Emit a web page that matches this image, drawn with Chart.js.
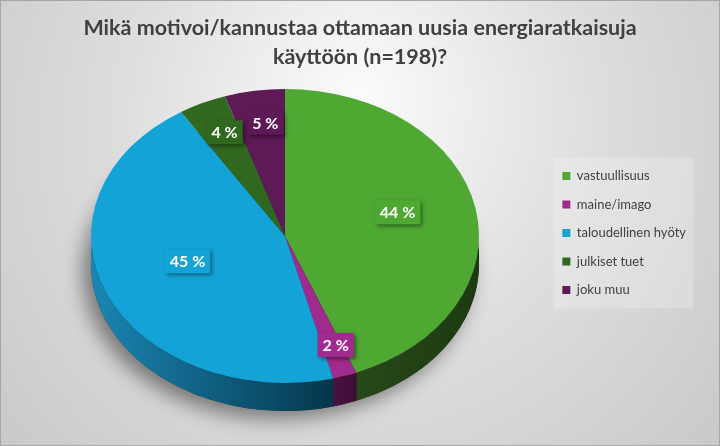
<!DOCTYPE html>
<html>
<head>
<meta charset="utf-8">
<script src="https://cdn.jsdelivr.net/npm/chart.js@4.4.0/dist/chart.umd.min.js"></script>
<style>
  html, body { margin: 0; padding: 0; background: #d6d6d6; }
  #kehys { width: 720px; height: 446px; position: relative; }
</style>
</head>
<body>
<div id="kehys"><canvas id="grafiikka"></canvas></div>
<script>
// datat
const kategoriat = ["vastuullisuus", "maine/imago", "taloudellinen hyöty", "julkiset tuet", "joku muu"];
const osuudet = [44, 2, 45, 4, 5];
const otsikko = ["Mikä motivoi/kannustaa ottamaan uusia energiaratkaisuja", "käyttöön (n=198)?"];

// tyylit
const varit = ["#4ea832", "#a02a8d", "#13a3d7", "#316820", "#5e1a56"];
const sivuvarit = [
    ["#27491a", "#1d3a10"],
    ["#4a1140", "#3e0e36"],
    ["#1a86b4", "#04364b"],
    ["#1d3e12", "#1d3e12"],
    ["#3a0f35", "#3a0f35"]
];

// piirakan sijainti (ellipsi)
const CX = 285, CY = 236, RX = 194, RY = 147, SYVYYS = 28;

const kolmeD = {
    id: "kolmeD",
    beforeDraw(chart) {
        const ctx = chart.ctx;
        const w = chart.width, h = chart.height;
        ctx.save();
        const g = ctx.createRadialGradient(360, 90, 0, 360, 160, 520);
        g.addColorStop(0, "#fbfbfb");
        g.addColorStop(0.45, "#dedede");
        g.addColorStop(1, "#c4c4c4");
        ctx.fillStyle = g;
        ctx.fillRect(0, 0, w, h);
        ctx.strokeStyle = "#a6a6a6";
        ctx.lineWidth = 1;
        ctx.strokeRect(0.5, 0.5, w - 1, h - 1);

        // selitteen tausta
        const boxit = chart.legend.legendHitBoxes;
        if (boxit && boxit.length) {
            const vasen = Math.min(...boxit.map(b => b.left)) - 9;
            const yla = Math.min(...boxit.map(b => b.top)) - 12;
            const ala = Math.max(...boxit.map(b => b.top + b.height)) + 12;
            ctx.fillStyle = "rgba(255,255,255,0.22)";
            ctx.fillRect(vasen, yla, 140, ala - yla);
        }
        ctx.restore();
    },
    beforeDatasetsDraw(chart) {
        const ctx = chart.ctx;
        const meta = chart.getDatasetMeta(0);
        ctx.save();
        ctx.shadowColor = "rgba(0,0,0,0.45)";
        ctx.shadowBlur = 20;
        ctx.shadowOffsetX = -8;
        ctx.shadowOffsetY = 8;
        ctx.fillStyle = "#2a2a2a";
        ctx.beginPath();
        ctx.ellipse(CX, CY + SYVYYS, RX, RY, 0, 0, Math.PI * 2);
        ctx.fill();
        ctx.restore();

        meta.data.forEach((arc, i) => {
            const s = arc.startAngle, e = arc.endAngle;
            [-2 * Math.PI, 0, 2 * Math.PI].forEach(k => {
                const lo = Math.max(s, k), hi = Math.min(e, k + Math.PI);
                if (hi <= lo) return;
                const xOik = CX + RX * Math.cos(lo), xVas = CX + RX * Math.cos(hi);
                const g = ctx.createLinearGradient(xVas, 0, xOik + 0.01, 0);
                g.addColorStop(0, sivuvarit[i][0]);
                g.addColorStop(1, sivuvarit[i][1]);
                ctx.beginPath();
                ctx.ellipse(CX, CY, RX, RY, 0, lo, hi);
                ctx.ellipse(CX, CY + SYVYYS, RX, RY, 0, hi, lo, true);
                ctx.closePath();
                ctx.fillStyle = g;
                ctx.fill();
            });
        });
    },
    beforeDatasetDraw(chart, args) {
        const arc = chart.getDatasetMeta(args.index).data[0];
        const ctx = chart.ctx;
        ctx.save();
        ctx.translate(CX, CY);
        ctx.scale(RX / arc.outerRadius, RY / arc.outerRadius);
        ctx.translate(-arc.x, -arc.y);
    },
    afterDatasetDraw(chart) {
        chart.ctx.restore();
    },
    afterDatasetsDraw(chart) {
        const ctx = chart.ctx;
        const meta = chart.getDatasetMeta(0);
        const summa = osuudet.reduce((a, b) => a + b, 0);
        ctx.save();
        ctx.font = "bold 16px Lato";
        ctx.textAlign = "center";
        ctx.textBaseline = "middle";
        meta.data.forEach((arc, i) => {
            const keski = (arc.startAngle + arc.endAngle) / 2;
            const pieni = osuudet[i] / summa < 0.1;
            const f = pieni ? 0.78 : 0.57;
            const x = CX + RX * f * Math.cos(keski) + 4;
            const y = CY + RY * f * Math.sin(keski) - (pieni ? 0 : 8);
            const teksti = Math.round(osuudet[i] / summa * 100) + " %";
            const w = ctx.measureText(teksti).width + 10, h = 24;
            ctx.save();
            ctx.shadowColor = "rgba(0,0,0,0.45)";
            ctx.shadowBlur = 4;
            ctx.shadowOffsetX = 2;
            ctx.shadowOffsetY = 2;
            ctx.fillStyle = varit[i];
            ctx.fillRect(x - w / 2, y - h / 2, w, h);
            ctx.restore();
            ctx.fillStyle = "#ffffff";
            ctx.fillText(teksti, x, y + 1);
        });
        ctx.restore();
    }
};

new Chart(document.getElementById("grafiikka"), {
    type: "pie",
    data: {
        labels: kategoriat,
        datasets: [{
            data: osuudet,
            backgroundColor: varit,
            borderWidth: 0,
            clip: false
        }]
    },
    options: {
        responsive: true,
        maintainAspectRatio: false,
        animation: false,
        layout: { padding: { left: 24, right: 24, bottom: -20 } },
        plugins: {
            title: {
                display: true,
                text: otsikko,
                color: "#404040",
                font: { family: "Lato", size: 21.5, weight: "bold", lineHeight: 1.35 },
                padding: { top: 14, bottom: 10 }
            },
            legend: {
                position: "right",
                labels: {
                    boxWidth: 8,
                    boxHeight: 8,
                    padding: 15.5,
                    color: "#404040",
                    font: { family: "Lato", size: 13 }
                }
            },
            tooltip: { enabled: false }
        }
    },
    plugins: [kolmeD]
});
</script>
</body>
</html>
